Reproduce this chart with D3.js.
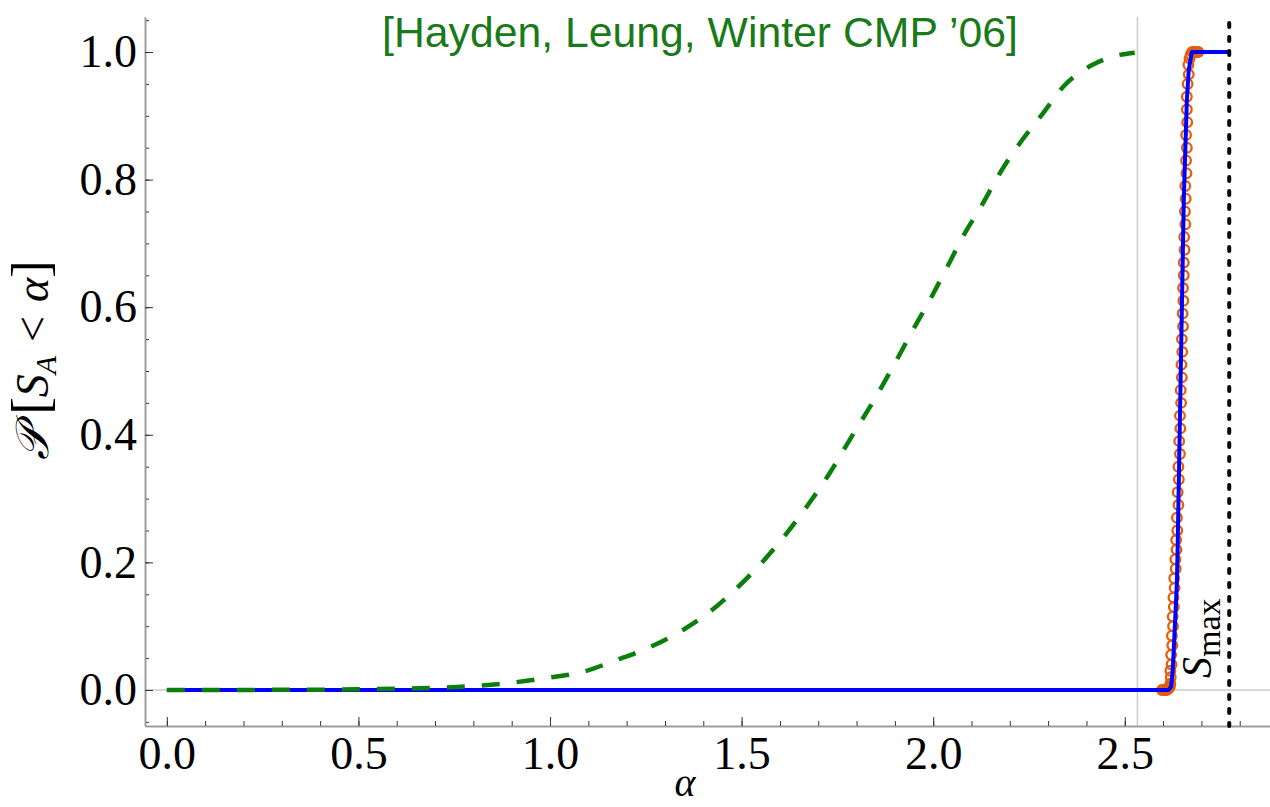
<!DOCTYPE html>
<html>
<head>
  <meta charset="utf-8">
  <script src="https://d3js.org/d3.v7.min.js"></script>
  <style>
    html, body {
      margin: 0;
      padding: 0;
      background: #fff;
      overflow: hidden;
    }
    svg { display: block; }
    .axis text {
      font-family: "Liberation Serif", "DejaVu Serif", serif;
      font-size: 46px;
      fill: #000;
    }
    .axis .domain { stroke: #999; stroke-width: 1.5; }
    .axis line { stroke: #333; stroke-width: 1; }
    .math {
      font-family: "Liberation Serif", "DejaVu Serif", serif;
      fill: #000;
    }
  </style>
</head>
<body>
  <svg width="1270" height="807"></svg>
  <script>
    // Hayden-Leung-Winter bound (green dashed)
    const hlwAlpha = [0, 0.3, 0.5, 0.6, 0.757, 0.895, 0.992, 1.083, 1.174, 1.260, 1.347, 1.422, 1.490,
      1.555, 1.618, 1.673, 1.730, 1.777, 1.853, 1.900, 1.944, 1.991, 2.035, 2.077, 2.127, 2.174,
      2.226, 2.283, 2.343, 2.416, 2.469, 2.526];
    const hlwP = [0, 0.0002, 0.001, 0.002, 0.0047, 0.011, 0.019, 0.028, 0.047, 0.067, 0.094, 0.125, 0.161,
      0.201, 0.246, 0.290, 0.340, 0.387, 0.462, 0.512, 0.561, 0.611, 0.661, 0.710, 0.760, 0.810,
      0.857, 0.901, 0.948, 0.980, 0.993, 0.999];

    // theoretical CDF (blue)
    const cdfAlpha = [0, 2.614, 2.621, 2.625, 2.629, 2.636, 2.638, 2.654, 2.662, 2.667, 2.675, 2.7726];
    const cdfP = [0, 0, 0.005, 0.03, 0.078, 0.168, 0.224, 0.768, 0.925, 0.972, 1, 1];

    // sampled values (orange circles)
    const sampleAlpha = [2.597, 2.600, 2.603, 2.606, 2.609, 2.612, 2.614, 2.616, 2.618, 2.619, 2.620,
      2.619, 2.622, 2.621, 2.624, 2.623, 2.626, 2.625, 2.628, 2.627, 2.630, 2.629, 2.633, 2.632,
      2.635, 2.634, 2.637, 2.636, 2.640, 2.638, 2.641, 2.640, 2.644, 2.642, 2.645, 2.644, 2.647,
      2.646, 2.649, 2.648, 2.650, 2.649, 2.652, 2.651, 2.653, 2.652, 2.654, 2.654, 2.656, 2.655,
      2.658, 2.657, 2.659, 2.658, 2.661, 2.660, 2.662, 2.660, 2.663, 2.662, 2.662, 2.664, 2.667,
      2.666, 2.669, 2.672, 2.676, 2.680, 2.684, 2.688, 2.692];
    const sampleP = [0, 0, 0, 0, 0, 0.001, 0.002, 0.004, 0.006, 0.01, 0.02,
      0.03, 0.04, 0.055, 0.07, 0.085, 0.10, 0.115, 0.13, 0.145, 0.16, 0.175, 0.19, 0.205,
      0.22, 0.235, 0.25, 0.27, 0.29, 0.31, 0.33, 0.35, 0.37, 0.39, 0.41, 0.43, 0.45,
      0.47, 0.49, 0.51, 0.53, 0.55, 0.57, 0.59, 0.61, 0.63, 0.65, 0.67, 0.69, 0.71,
      0.73, 0.75, 0.77, 0.79, 0.81, 0.83, 0.85, 0.87, 0.89, 0.91, 0.93, 0.95, 0.965,
      0.98, 0.99, 0.996, 1, 1, 1, 1, 1];

    const sMax = 2.7726;
    const axisCross = 2.533;

    const xTickValues = [0, 0.5, 1.0, 1.5, 2.0, 2.5];
    const yTickValues = [0, 0.2, 0.4, 0.6, 0.8, 1.0];

    const svg = d3.select("svg");
    const x = d3.scaleLinear().domain([-0.057, 2.879]).range([145, 1270]);
    const y = d3.scaleLinear().domain([-0.0565, 1.0549]).range([726, 17]);

    // light axes crossing lines
    svg.append("line")
      .attr("x1", x.range()[0]).attr("x2", x.range()[1])
      .attr("y1", y(0)).attr("y2", y(0))
      .attr("stroke", "#ccc").attr("stroke-width", 1.5);
    svg.append("line")
      .attr("x1", x(axisCross)).attr("x2", x(axisCross))
      .attr("y1", y.range()[0]).attr("y2", y.range()[1])
      .attr("stroke", "#ccc").attr("stroke-width", 1.5);

    // frame axes, minor then major ticks
    svg.append("g").attr("class", "axis")
      .attr("transform", `translate(0,${y.range()[0]})`)
      .call(d3.axisBottom(x).tickValues(d3.range(0, 2.85, 0.1)).tickSize(-5).tickSizeOuter(0).tickFormat(""));
    svg.append("g").attr("class", "axis")
      .attr("transform", `translate(0,${y.range()[0]})`)
      .call(d3.axisBottom(x).tickValues(xTickValues).tickSize(-9).tickSizeOuter(0).tickPadding(10)
        .tickFormat(d3.format(".1f")));
    svg.append("g").attr("class", "axis")
      .attr("transform", `translate(${x.range()[0]},0)`)
      .call(d3.axisLeft(y).tickValues(d3.range(-0.05, 1.06, 0.05)).tickSize(-4).tickSizeOuter(0).tickFormat(""));
    svg.append("g").attr("class", "axis")
      .attr("transform", `translate(${x.range()[0]},0)`)
      .call(d3.axisLeft(y).tickValues(yTickValues).tickSize(-8).tickSizeOuter(0).tickPadding(8)
        .tickFormat(d3.format(".1f")));

    // sampled points
    svg.append("g").selectAll("circle")
      .data(sampleAlpha.map((a, i) => [a, sampleP[i]]))
      .enter().append("circle")
      .attr("cx", d => x(d[0]))
      .attr("cy", d => y(d[1]))
      .attr("r", 4.8)
      .attr("fill", "none")
      .attr("stroke", "#e35f0e")
      .attr("stroke-width", 2.3);

    const line = d3.line().x(d => x(d[0])).y(d => y(d[1]));

    svg.append("path")
      .datum(cdfAlpha.map((a, i) => [a, cdfP[i]]))
      .attr("d", line)
      .attr("fill", "none")
      .attr("stroke", "#0000ff")
      .attr("stroke-width", 4)
      .attr("stroke-linejoin", "round");

    svg.append("path")
      .datum(hlwAlpha.map((a, i) => [a, hlwP[i]]))
      .attr("d", line.curve(d3.curveMonotoneX))
      .attr("fill", "none")
      .attr("stroke", "#0b7f0b")
      .attr("stroke-width", 4.5)
      .attr("stroke-dasharray", "18,17");

    // S_max marker
    svg.append("line")
      .attr("x1", x(sMax)).attr("x2", x(sMax))
      .attr("y1", y.range()[1] + 6).attr("y2", y.range()[0])
      .attr("stroke", "#000")
      .attr("stroke-width", 4)
      .attr("stroke-linecap", "round")
      .attr("stroke-dasharray", "4,10");

    const smax = svg.append("text").attr("class", "math")
      .attr("transform", `translate(${x(sMax) - 18},678) rotate(-90)`)
      .attr("font-size", 42);
    smax.append("tspan").attr("font-style", "italic").text("S");
    smax.append("tspan").attr("font-size", 34).attr("dy", 9).text("max");

    // title
    svg.append("text")
      .attr("x", 700).attr("y", 47)
      .attr("text-anchor", "middle")
      .attr("font-family", "Liberation Sans, Arial, sans-serif")
      .attr("font-size", 42)
      .attr("textLength", 636)
      .attr("lengthAdjust", "spacingAndGlyphs")
      .attr("fill", "#1a7a1a")
      .text("[Hayden, Leung, Winter CMP ’06]");

    // axis labels
    svg.append("text").attr("class", "math")
      .attr("x", 685).attr("y", 796)
      .attr("text-anchor", "middle")
      .attr("font-size", 40)
      .attr("font-style", "italic")
      .text("α");

    const yl = svg.append("text").attr("class", "math")
      .attr("transform", "translate(48,360) rotate(-90)")
      .attr("text-anchor", "middle")
      .attr("font-size", 46);
    yl.append("tspan").attr("font-style", "italic").text("𝒫");
    yl.append("tspan").attr("font-size", 52).attr("dx", 12).text("[");
    yl.append("tspan").attr("font-style", "italic").text("S");
    yl.append("tspan").attr("font-style", "italic").attr("font-size", 30).attr("dy", 8).text("A");
    yl.append("tspan").attr("dy", -8).attr("dx", 14).text("<");
    yl.append("tspan").attr("dx", 14).attr("font-style", "italic").text("α");
    yl.append("tspan").attr("font-size", 52).text("]");
  </script>
</body>
</html>
